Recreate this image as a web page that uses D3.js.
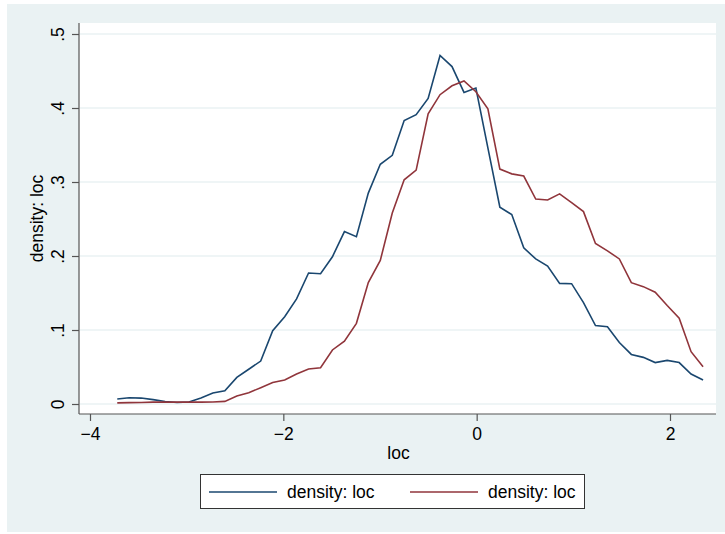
<!DOCTYPE html>
<html>
<head>
<meta charset="utf-8">
<script src="https://cdn.jsdelivr.net/npm/d3@7"></script>
<style>
  body { margin: 0; background: #ffffff; }
  svg { display: block; font-family: "Liberation Sans", Arial, Helvetica, sans-serif; }
</style>
</head>
<body>
<svg id="chart" width="725" height="534"></svg>
<script>
// evaluation grid (loc)
const locGrid = [-3.718, -3.594, -3.471, -3.347, -3.223, -3.100, -2.976, -2.852, -2.729, -2.605,
  -2.481, -2.358, -2.234, -2.110, -1.986, -1.863, -1.739, -1.615, -1.492, -1.368,
  -1.244, -1.121, -0.997, -0.873, -0.750, -0.626, -0.502, -0.379, -0.255, -0.131,
  -0.008, 0.116, 0.240, 0.363, 0.487, 0.611, 0.734, 0.858, 0.982, 1.105,
  1.229, 1.353, 1.476, 1.600, 1.724, 1.847, 1.971, 2.095, 2.218, 2.342];

// first density (blue)
const densityA = [0.0068, 0.0085, 0.0080, 0.0059, 0.0034, 0.0020, 0.0027, 0.0080, 0.0150, 0.0178,
  0.036, 0.047, 0.058, 0.099, 0.118, 0.142, 0.177, 0.176, 0.199, 0.233,
  0.226, 0.285, 0.324, 0.336, 0.383, 0.391, 0.413, 0.471, 0.456, 0.421,
  0.427, 0.346, 0.266, 0.256, 0.211, 0.196, 0.1865, 0.163, 0.1626, 0.137,
  0.106, 0.1045, 0.083, 0.067, 0.063, 0.056, 0.059, 0.056, 0.0405, 0.0324];

// second density (red)
const densityB = [0.0015, 0.0018, 0.0020, 0.0025, 0.0027, 0.0025, 0.0025, 0.0025, 0.0027, 0.0035,
  0.0108, 0.0153, 0.022, 0.029, 0.0324, 0.0405, 0.0473, 0.049, 0.073, 0.085,
  0.109, 0.164, 0.194, 0.258, 0.303, 0.316, 0.392, 0.418, 0.430, 0.4365,
  0.422, 0.399, 0.3175, 0.311, 0.308, 0.277, 0.2757, 0.284, 0.272, 0.260,
  0.217, 0.207, 0.196, 0.164, 0.1586, 0.151, 0.133, 0.116, 0.0707, 0.0505];

const xTicks = [-4, -2, 0, 2];
const yTicks = [0, 0.1, 0.2, 0.3, 0.4, 0.5];
const yTickLabels = ["0", ".1", ".2", ".3", ".4", ".5"];
const legendLabels = ["density: loc", "density: loc"];
const seriesColors = ["#1a476f", "#90353b"];

const svg = d3.select("#chart");

// plot region box
const plot = { left: 79, right: 716, top: 23, bottom: 414 };

const x = d3.scaleLinear().domain([-4, 2]).range([90, 670]);
const y = d3.scaleLinear().domain([0, 0.5]).range([404, 34]);

// graph region background
svg.append("rect")
  .attr("x", 7).attr("y", 4)
  .attr("width", 718).attr("height", 528)
  .attr("fill", "#eaf2f3");

svg.append("rect")
  .attr("x", plot.left).attr("y", plot.top)
  .attr("width", plot.right - plot.left).attr("height", plot.bottom - plot.top)
  .attr("fill", "#ffffff");

// gridlines
svg.append("g")
  .selectAll("line")
  .data(yTicks)
  .enter()
  .append("line")
  .attr("x1", plot.left + 1).attr("x2", plot.right)
  .attr("y1", d => y(d)).attr("y2", d => y(d))
  .attr("stroke", "#eaf2f3")
  .attr("stroke-width", 1.5);

// y axis
const yAxis = d3.axisLeft(y)
  .tickValues(yTicks)
  .tickSize(7)
  .tickFormat((d, i) => yTickLabels[i]);

const gy = svg.append("g")
  .attr("transform", `translate(${plot.left},0)`)
  .call(yAxis);
gy.select(".domain").remove();
gy.append("line")
  .attr("x1", 0).attr("x2", 0)
  .attr("y1", plot.top).attr("y2", plot.bottom)
  .attr("stroke", "#555555").attr("stroke-width", 1.2);
gy.selectAll(".tick line").attr("stroke", "#555555").attr("stroke-width", 1.2);
gy.selectAll(".tick text")
  .attr("x", null).attr("dy", null)
  .attr("transform", "translate(-15,0) rotate(-90)")
  .attr("text-anchor", "middle")
  .attr("font-size", 17.5)
  .attr("font-family", "Liberation Sans, Arial, sans-serif")
  .attr("fill", "#000000");

// x axis
const xAxis = d3.axisBottom(x)
  .tickValues(xTicks)
  .tickSize(7)
  .tickFormat(d => d < 0 ? "\u2212" + Math.abs(d) : String(d));

const gx = svg.append("g")
  .attr("transform", `translate(0,${plot.bottom})`)
  .call(xAxis);
gx.select(".domain").remove();
gx.append("line")
  .attr("x1", plot.left).attr("x2", plot.right)
  .attr("y1", 0).attr("y2", 0)
  .attr("stroke", "#555555").attr("stroke-width", 1.2);
gx.selectAll(".tick line").attr("stroke", "#555555").attr("stroke-width", 1.2);
gx.selectAll(".tick text")
  .attr("y", 26).attr("dy", null)
  .attr("font-size", 17.5)
  .attr("font-family", "Liberation Sans, Arial, sans-serif")
  .attr("fill", "#000000");

// axis titles
svg.append("text")
  .attr("x", (plot.left + plot.right) / 2 + 1)
  .attr("y", 459)
  .attr("text-anchor", "middle")
  .attr("font-size", 17.5)
  .text("loc");

svg.append("text")
  .attr("transform", `translate(43,${(plot.top + plot.bottom) / 2}) rotate(-90)`)
  .attr("text-anchor", "middle")
  .attr("font-size", 17.5)
  .text("density: loc");

// density lines
const line = d3.line()
  .x(d => x(d[0]))
  .y(d => y(d[1]));

const series = [densityA, densityB];
svg.append("g")
  .selectAll("path")
  .data(series)
  .enter()
  .append("path")
  .attr("d", vals => line(locGrid.map((g, i) => [g, vals[i]])))
  .attr("fill", "none")
  .attr("stroke", (d, i) => seriesColors[i])
  .attr("stroke-width", 1.6)
  .attr("stroke-linejoin", "miter");

// legend
const legend = svg.append("g");
legend.append("rect")
  .attr("x", 200.5).attr("y", 474.5)
  .attr("width", 384).attr("height", 34)
  .attr("fill", "#ffffff")
  .attr("stroke", "#333333")
  .attr("stroke-width", 1);

const legendX = [209, 410];
legendLabels.forEach((lab, i) => {
  legend.append("line")
    .attr("x1", legendX[i]).attr("x2", legendX[i] + 68)
    .attr("y1", 492).attr("y2", 492)
    .attr("stroke", seriesColors[i])
    .attr("stroke-width", 1.6);
  legend.append("text")
    .attr("x", legendX[i] + 78)
    .attr("y", 498)
    .attr("font-size", 17.5)
    .text(lab);
});
</script>
</body>
</html>
